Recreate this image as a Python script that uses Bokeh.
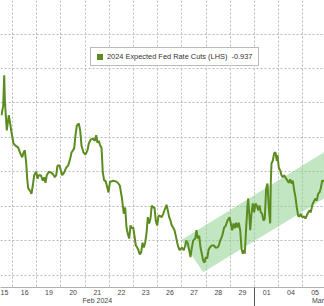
from bokeh.plotting import figure
from bokeh.models import Range1d, FixedTicker, LinearAxis, Legend, LegendItem, Grid
from bokeh.embed import file_html
from bokeh.resources import INLINE

# trading days shown on the axis (index 0 = Feb 15)
day_labels = ["15", "16", "19", "20", "21", "22", "23", "26", "27", "28", "29", "01", "04", "05"]
month_labels = ["Feb 2024", "Mar"]
month_pos = [4, 13.12]
month_break = [10.5]

# 2024 expected Fed rate cuts (fractional trading-day index, value)
t = [0.041, 0.112, 0.153, 0.178, 0.219, 0.260, 0.343, 0.401, 0.455, 0.537,
     0.620, 0.731, 0.814, 0.897, 0.950, 1.004, 1.062, 1.103, 1.145, 1.211,
     1.281, 1.335, 1.393, 1.475, 1.529, 1.583, 1.665, 1.748, 1.806, 1.860,
     1.913, 1.996, 2.079, 2.161, 2.244, 2.302, 2.355, 2.438, 2.492, 2.550,
     2.632, 2.715, 2.798, 2.880, 2.934, 3.045, 3.099, 3.153, 3.236, 3.293,
     3.347, 3.430, 3.512, 3.595, 3.649, 3.731, 3.814, 3.897, 3.955, 4.008,
     4.062, 4.120, 4.174, 4.227, 4.285, 4.339, 4.401, 4.463, 4.525, 4.587,
     4.657, 4.764, 4.847, 4.930, 5.012, 5.095, 5.153, 5.207, 5.260, 5.318,
     5.372, 5.426, 5.483, 5.537, 5.591, 5.649, 5.702, 5.756, 5.814, 5.868,
     5.921, 5.979, 6.033, 6.087, 6.145, 6.198, 6.252, 6.310, 6.364, 6.417,
     6.475, 6.529, 6.583, 6.665, 6.723, 6.806, 6.860, 6.913, 6.971, 7.025,
     7.079, 7.136, 7.190, 7.244, 7.302, 7.355, 7.409, 7.492, 7.574, 7.632,
     7.686, 7.740, 7.798, 7.851, 7.905, 7.963, 8.045, 8.099, 8.153, 8.211,
     8.264, 8.318, 8.376, 8.430, 8.483, 8.541, 8.595, 8.649, 8.731, 8.814,
     8.884, 8.967, 9.021, 9.079, 9.161, 9.244, 9.298, 9.380, 9.463, 9.517,
     9.574, 9.628, 9.682, 9.740, 9.793, 9.847, 9.905, 9.959, 10.012, 10.070,
     10.095, 10.153, 10.207, 10.236, 10.289, 10.318, 10.372, 10.426, 10.483, 10.537,
     10.591, 10.649, 10.702, 10.756, 10.814, 10.868, 10.921, 10.979, 11.033, 11.087,
     11.145, 11.169, 11.198, 11.252, 11.310, 11.364, 11.417, 11.446, 11.500, 11.558,
     11.612, 11.665, 11.723, 11.806, 11.860, 11.913, 11.971, 12.025, 12.079, 12.136,
     12.190, 12.244, 12.302, 12.355, 12.409, 12.467, 12.550, 12.603, 12.686, 12.769,
     12.822, 12.880, 12.963, 13.017, 13.070, 13.128, 13.182, 13.236, 13.293, 13.347,
     13.430]
v = [-1.032, -1.046, -1.090, -1.056, -1.032, -1.010, -1.032, -1.020, -1.007, -0.991,
     -0.988, -0.985, -0.977, -0.971, -0.978, -0.981, -0.963, -0.940, -0.926, -0.923,
     -0.918, -0.930, -0.945, -0.950, -0.940, -0.945, -0.945, -0.937, -0.942, -0.934,
     -0.945, -0.950, -0.949, -0.947, -0.942, -0.945, -0.959, -0.959, -0.952, -0.945,
     -0.949, -0.956, -0.959, -0.969, -0.978, -0.984, -1.003, -1.017, -1.020, -1.010,
     -0.988, -0.978, -0.975, -0.981, -0.991, -0.997, -0.998, -0.995, -1.003, -0.992,
     -0.995, -0.988, -0.985, -0.949, -0.937, -0.937, -0.929, -0.920, -0.936, -0.936,
     -0.937, -0.936, -0.934, -0.930, -0.913, -0.889, -0.898, -0.869, -0.860, -0.853,
     -0.872, -0.868, -0.869, -0.857, -0.843, -0.840, -0.836, -0.830, -0.833, -0.847,
     -0.840, -0.847, -0.860, -0.884, -0.875, -0.882, -0.901, -0.898, -0.898, -0.879,
     -0.872, -0.886, -0.886, -0.884, -0.889, -0.897, -0.902, -0.894, -0.884, -0.879,
     -0.872, -0.869, -0.865, -0.857, -0.847, -0.840, -0.836, -0.840, -0.836, -0.843,
     -0.850, -0.846, -0.836, -0.826, -0.839, -0.850, -0.853, -0.865, -0.853, -0.857,
     -0.840, -0.831, -0.821, -0.818, -0.826, -0.824, -0.836, -0.840, -0.843, -0.843,
     -0.840, -0.840, -0.843, -0.850, -0.857, -0.869, -0.871, -0.879, -0.884, -0.875,
     -0.865, -0.875, -0.868, -0.876, -0.869, -0.876, -0.865, -0.839, -0.831, -0.836,
     -0.831, -0.869, -0.901, -0.911, -0.884, -0.865, -0.889, -0.904, -0.891, -0.904,
     -0.901, -0.894, -0.901, -0.891, -0.889, -0.879, -0.882, -0.926, -0.933, -0.898,
     -0.875, -0.933, -0.962, -0.966, -0.977, -0.978, -0.966, -0.974, -0.956, -0.952,
     -0.945, -0.942, -0.945, -0.940, -0.937, -0.934, -0.939, -0.933, -0.937, -0.923,
     -0.913, -0.898, -0.886, -0.885, -0.889, -0.884, -0.885, -0.882, -0.889, -0.894,
     -0.891, -0.901, -0.908, -0.911, -0.908, -0.918, -0.920, -0.926, -0.937, -0.937,
     -0.937]
last_value = -0.937

# hand-drawn rising channel (corners in data units)
channel_t = [7.479, 8.376, 13.5, 13.5]
channel_v = [-0.851, -0.804, -0.914, -0.981]

y_grid = [-1.15, -1.10, -1.05, -1.00, -0.95, -0.90, -0.85, -0.80]
x_bounds = [i + 0.5 for i in range(len(day_labels) - 1)]

LINE = "#5b8c1f"
FONT = "Liberation Sans"

p = figure(frame_width=324, frame_height=287,
           x_range=Range1d(0.0, 13.389), y_range=Range1d(-0.7819, -1.1987),
           x_axis_type=None, y_axis_type=None,
           output_backend="svg", toolbar_location=None,
           min_border=0, outline_line_color=None,
           background_fill_color="white", border_fill_color="white")

p.add_layout(Grid(dimension=0, ticker=FixedTicker(ticks=x_bounds),
                  grid_line_color="#b8b8b8", grid_line_dash="2 2", grid_line_width=1))
p.add_layout(Grid(dimension=1, ticker=FixedTicker(ticks=y_grid),
                  grid_line_color="#b8b8b8", grid_line_dash="2 2", grid_line_width=1))

p.patch(channel_t, channel_v, fill_color="#8fd18f", fill_alpha=0.55, line_color=None)
p.line(t, v, line_color=LINE, line_width=2)
# last value marker (zero size on the plot; gives the legend its square key)
key = p.scatter([t[-1]], [last_value], marker="square", size=0,
                fill_color=LINE, line_color=None)

day_axis = LinearAxis(
    ticker=FixedTicker(ticks=list(range(len(day_labels))), minor_ticks=month_break),
    major_label_overrides={i: lab for i, lab in enumerate(day_labels)},
    major_tick_line_color=None, major_tick_out=0, major_tick_in=0,
    minor_tick_line_color="#555555", minor_tick_out=19, minor_tick_in=0,
    axis_line_color="#b0b0b0",
    major_label_standoff=-17,
    major_label_text_font=FONT, major_label_text_font_size="7px",
    major_label_text_color="#444444")
month_axis = LinearAxis(
    ticker=FixedTicker(ticks=month_pos),
    major_label_overrides={pos: lab for pos, lab in zip(month_pos, month_labels)},
    major_tick_line_color=None, minor_tick_line_color=None, major_tick_out=0,
    axis_line_color=None,
    major_label_standoff=-1,
    major_label_text_font=FONT, major_label_text_font_size="7px",
    major_label_text_color="#444444")
p.add_layout(day_axis, "below")
p.add_layout(month_axis, "below")

legend = Legend(
    items=[LegendItem(label="2024 Expected Fed Rate Cuts (LHS)\u00a0\u00a0" + str(last_value) + "\u00a0\u00a0",
                      renderers=[key])],
    location=(90, 221), margin=0, padding=1, spacing=0,
    glyph_width=15, glyph_height=15, label_height=8, label_standoff=-2,
    label_text_font=FONT, label_text_font_size="7.4px", label_text_color="#333333",
    border_line_color="#777777", border_line_width=1,
    background_fill_color="white", background_fill_alpha=1)
p.add_layout(legend)

open("out.html", "w").write(file_html(p, INLINE))
